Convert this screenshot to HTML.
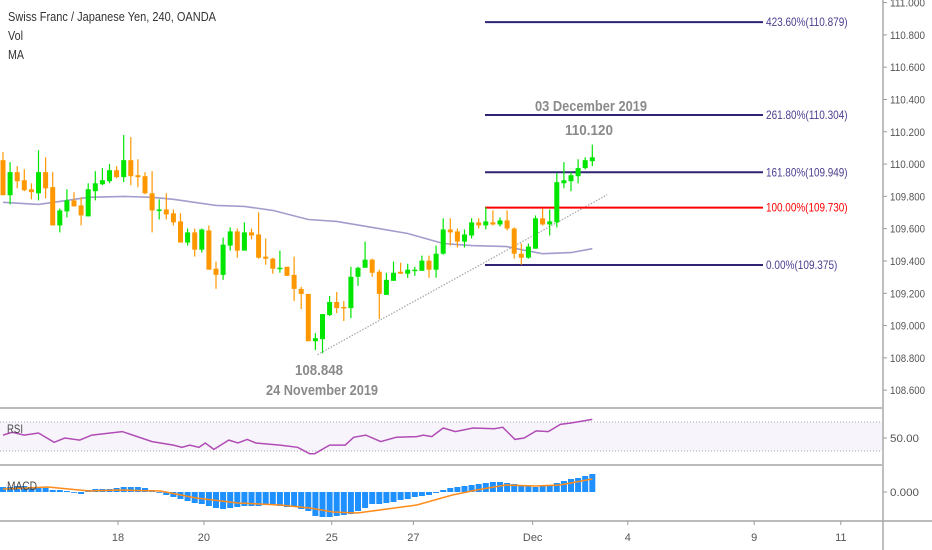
<!DOCTYPE html>
<html><head><meta charset="utf-8">
<style>
html,body{margin:0;padding:0;background:#fff;}
svg{display:block;font-family:"Liberation Sans",sans-serif;}
</style></head>
<body>
<svg id="chart" width="932" height="550" viewBox="0 0 932 550" xmlns="http://www.w3.org/2000/svg">
  <rect x="0" y="0" width="932" height="550" fill="#fff"/>
  <rect x="0" y="422" width="882" height="29" fill="#f8f4fb"/>
  <line x1="0" y1="422" x2="882" y2="422" stroke="#aaa" stroke-dasharray="1,2"/>
  <line x1="0" y1="451" x2="882" y2="451" stroke="#aaa" stroke-dasharray="1,2"/>
  <g id="plot"></g>
  <line x1="0" y1="408" x2="882" y2="408" stroke="#bbb" stroke-width="2"/>
  <line x1="0" y1="465" x2="882" y2="465" stroke="#bbb" stroke-width="2"/>
  <line x1="0" y1="521" x2="932" y2="521" stroke="#bbb" stroke-width="2"/>
  <line x1="883" y1="0" x2="883" y2="550" stroke="#aaa" stroke-width="1.5"/>
  <g id="axes"></g>
  <text x="8" y="21" font-size="13" fill="#333" textLength="208" lengthAdjust="spacingAndGlyphs">Swiss Franc / Japanese Yen, 240, OANDA</text>
  <text x="8" y="40" font-size="13" fill="#333" textLength="15" lengthAdjust="spacingAndGlyphs">Vol</text>
  <text x="8" y="59" font-size="13" fill="#333" textLength="16" lengthAdjust="spacingAndGlyphs">MA</text>
  <text x="7" y="433" font-size="12" fill="#444" textLength="16" lengthAdjust="spacingAndGlyphs">RSI</text>
  <text x="7" y="490" font-size="12" fill="#444" textLength="30" lengthAdjust="spacingAndGlyphs">MACD</text>
  <text x="535" y="111" font-size="15" font-weight="bold" fill="#8a8a8a" textLength="112" lengthAdjust="spacingAndGlyphs">03 December 2019</text>
  <text x="565" y="135" font-size="15" font-weight="bold" fill="#8a8a8a" textLength="48" lengthAdjust="spacingAndGlyphs">110.120</text>
  <text x="295" y="375" font-size="15" font-weight="bold" fill="#8a8a8a" textLength="48" lengthAdjust="spacingAndGlyphs">108.848</text>
  <text x="266" y="395" font-size="15" font-weight="bold" fill="#8a8a8a" textLength="112" lengthAdjust="spacingAndGlyphs">24 November 2019</text>
</svg>
<script>
const opens=[110.024,109.807,109.950,109.900,109.844,109.819,109.950,109.857,109.620,109.707,109.775,109.744,109.676,109.832,109.875,109.894,109.962,109.919,110.024,109.931,109.925,109.819,109.713,109.719,109.695,109.645,109.514,109.577,109.470,109.589,109.352,109.314,109.495,109.583,109.464,109.577,109.564,109.427,109.414,109.352,109.364,109.314,109.227,109.196,108.903,108.916,109.065,109.146,109.115,109.108,109.302,109.358,109.408,109.333,109.190,109.277,109.333,109.321,109.339,109.339,109.402,109.346,109.445,109.595,109.583,109.520,109.558,109.639,109.620,109.639,109.626,109.651,109.601,109.445,109.420,109.476,109.664,109.626,109.639,109.881,109.894,109.925,109.975,110.018];
const highs=[110.074,110.012,109.987,109.968,109.881,110.086,110.042,109.950,109.725,109.844,109.826,109.794,109.881,109.956,109.975,110.000,109.987,110.180,110.167,110.030,109.950,109.956,109.782,109.819,109.719,109.695,109.601,109.601,109.601,109.620,109.396,109.545,109.608,109.601,109.639,109.601,109.701,109.539,109.420,109.464,109.364,109.427,109.240,109.196,108.953,109.071,109.183,109.208,109.152,109.364,109.364,109.520,109.414,109.346,109.327,109.396,109.389,109.383,109.364,109.433,109.433,109.495,109.664,109.664,109.601,109.595,109.664,109.664,109.732,109.713,109.670,109.713,109.608,109.508,109.508,109.682,109.725,109.719,109.944,110.012,109.950,110.030,110.042,110.120];
const lows=[109.807,109.750,109.850,109.832,109.782,109.775,109.788,109.620,109.577,109.670,109.738,109.620,109.676,109.775,109.869,109.881,109.912,109.888,109.869,109.857,109.813,109.577,109.657,109.657,109.620,109.514,109.495,109.427,109.452,109.346,109.228,109.283,109.464,109.420,109.464,109.533,109.414,109.377,109.321,109.327,109.308,109.152,109.102,108.903,108.848,108.829,109.059,109.077,109.028,109.046,109.246,109.358,109.302,109.040,109.190,109.277,109.321,109.296,109.308,109.339,109.296,109.296,109.439,109.495,109.483,109.483,109.539,109.601,109.595,109.620,109.614,109.589,109.414,109.377,109.414,109.476,109.620,109.558,109.608,109.850,109.832,109.881,109.968,109.987];
const closes=[109.807,109.950,109.894,109.838,109.826,109.950,109.850,109.620,109.713,109.775,109.738,109.682,109.844,109.881,109.900,109.962,109.919,110.024,109.925,109.919,109.819,109.713,109.719,109.688,109.639,109.514,109.577,109.470,109.595,109.346,109.314,109.501,109.583,109.464,109.577,109.558,109.420,109.414,109.352,109.358,109.308,109.227,109.196,108.903,108.922,109.071,109.146,109.108,109.108,109.302,109.358,109.408,109.327,109.196,109.283,109.327,109.321,109.346,109.346,109.402,109.346,109.445,109.595,109.577,109.520,109.564,109.639,109.620,109.645,109.626,109.651,109.601,109.445,109.420,109.489,109.664,109.626,109.645,109.888,109.900,109.931,109.975,110.024,110.042];
const maIdx=[0,5,8,12,17,21,24,30,34,38,43,47,52,57,62,66,71,73,76,80,83];
const maVal=[109.763,109.750,109.769,109.794,109.800,109.794,109.782,109.744,109.738,109.713,109.657,109.645,109.608,109.570,109.508,109.495,109.489,109.470,109.445,109.452,109.476];
const rsiIdx=[0,1.3,3,5,7.2,8.7,10.8,12.5,16.8,21,24,25.2,26.3,27.6,28.5,29.7,31.8,33.1,34.4,35.6,39,41.5,43.2,43.9,46,48.2,49.4,51.1,53.2,55.4,58.3,59.2,60.4,62,63.7,66.2,69.2,70.4,72.1,73.4,75.1,76.8,78.5,80,83];
const rsiVal=[54,58,54,57,44,50,47,54,59,45,40,37,40,37,43,34,47,43,48,43,40,37,28,28,40,40,51,54,45,51,52,54,52,64,59,64,63,65,48,50,60,59,69,71,76];
const macdHist=[0.005,0.005,0.006,0.006,0.005,0.005,0.004,0.002,0.002,0.001,0,-0.002,0.002,0.003,0.003,0.003,0.004,0.005,0.005,0.005,0.004,0.002,0,-0.003,-0.005,-0.007,-0.009,-0.011,-0.012,-0.014,-0.016,-0.017,-0.016,-0.015,-0.014,-0.014,-0.014,-0.013,-0.013,-0.014,-0.015,-0.015,-0.017,-0.019,-0.024,-0.025,-0.025,-0.024,-0.023,-0.022,-0.019,-0.016,-0.012,-0.012,-0.011,-0.010,-0.008,-0.007,-0.005,-0.004,-0.003,-0.001,0.002,0.004,0.005,0.006,0.007,0.008,0.009,0.010,0.010,0.009,0.008,0.007,0.006,0.005,0.006,0.006,0.009,0.011,0.013,0.014,0.016,0.018];
const sigIdx=[0,6.3,12.2,16.3,22.2,27.2,33.1,39,43.2,46.5,49.9,58.3,63.3,66.7,70.8,75,78.4,83];
const sigVal=[0.003,0.005,0.001,0.002,0.001,-0.006,-0.011,-0.013,-0.016,-0.020,-0.021,-0.013,-0.003,0.002,0.007,0.006,0.007,0.013];
const priceTicks=[111.0,110.8,110.6,110.4,110.2,110.0,109.8,109.6,109.4,109.2,109.0,108.8,108.6];
const fibLabels=["423.60%(110.879)","261.80%(110.304)","161.80%(109.949)","100.00%(109.730)","0.00%(109.375)"];
const fibPrices=[110.879,110.304,109.949,109.730,109.375];
const fibColors=["#2e2473","#2e2473","#2e2473","#ff0000","#2e2473"];
const timeLabels=["18","20","25","27","Dec","4","9","11"];
const timeIdx=[16.2,28.3,46.3,57.8,74.6,88,105.8,118];
const trendStart=[44.3,108.82], trendEnd=[85.1,109.81];

const NS="http://www.w3.org/2000/svg";
const X=i=>3+i*7.1;
const Y=p=>172.3-(p-109.949)*161.5;
const RY=v=>438-(v-50)*0.715;
const MY=v=>492-v*1000;
const plot=document.getElementById('plot'), axes=document.getElementById('axes');
function mk(tag,attrs,parent){const e=document.createElementNS(NS,tag);for(const k in attrs)e.setAttribute(k,attrs[k]);(parent||plot).appendChild(e);return e;}

let d=maIdx.map((i,k)=>(k?'L':'M')+X(i).toFixed(1)+' '+Y(maVal[k]).toFixed(1)).join(' ');
let ma=mk('path',{d:d,fill:'none',stroke:'#a49ccc','stroke-width':1.6});


let tl=mk('line',{x1:X(trendStart[0]),y1:Y(trendStart[1]),x2:X(trendEnd[0]),y2:Y(trendEnd[1]),stroke:'#aaa','stroke-width':1.3,'stroke-dasharray':'1.5,1.5'});


fibPrices.forEach((p,k)=>{
  const l=mk('line',{x1:485,y1:Y(p),x2:763,y2:Y(p),stroke:fibColors[k],'stroke-width':2});
  
  
  const t=mk('text',{x:766,y:Y(p)+4,'font-size':12,fill:k==3?'#ff0000':'#4a3f8f',textLength:fibLabels[k].length*5.1,lengthAdjust:'spacingAndGlyphs'});
  t.textContent=fibLabels[k];
  
  
});
opens.forEach((o,i)=>{
  const c=closes[i],up=c>=o,col=up?'#00e600':'#ff9800',x=X(i);
  const w=mk('line',{x1:x,y1:Y(highs[i]),x2:x,y2:Y(lows[i]),stroke:col,'stroke-width':1.2});
  
  
  const t=Y(Math.max(o,c)),b=Y(Math.min(o,c));
  const r=mk('rect',{x:x-2.5,y:t,width:5,height:Math.max(1.5,b-t),fill:col});
  
  
});
d=rsiIdx.map((i,k)=>(k?'L':'M')+X(i).toFixed(1)+' '+RY(rsiVal[k]).toFixed(1)).join(' ');
let rl=mk('path',{d:d,fill:'none',stroke:'#b04cb5','stroke-width':1.5});


macdHist.forEach((v,i)=>{
  const y0=MY(0),y1=MY(v);
  const r=mk('rect',{x:X(i)-3,y:Math.min(y0,y1),width:6,height:Math.max(0.8,Math.abs(y1-y0)),fill:'#1e90ff'});
  
  
});
d=sigIdx.map((i,k)=>(k?'L':'M')+X(i).toFixed(1)+' '+MY(sigVal[k]).toFixed(1)).join(' ');
let sl=mk('path',{d:d,fill:'none',stroke:'#ff8c1a','stroke-width':1.5});


priceTicks.forEach(p=>{
  const y=Y(p);
  mk('line',{x1:883,y1:y,x2:887,y2:y,stroke:'#999'},axes);
  const t=mk('text',{x:890,y:y+4,'font-size':11,fill:'#555',textLength:35,lengthAdjust:'spacingAndGlyphs'},axes);
  t.textContent=p.toFixed(3);
  
  
});
[[RY(50),'50.00',29],[MY(0),'0.000',29]].forEach(a=>{
  mk('line',{x1:883,y1:a[0],x2:887,y2:a[0],stroke:'#999'},axes);
  const t=mk('text',{x:890,y:a[0]+4,'font-size':11,fill:'#555',textLength:a[2],lengthAdjust:'spacingAndGlyphs'},axes);
  t.textContent=a[1];
  
  
});
timeLabels.forEach((s,k)=>{
  const x=X(timeIdx[k]);
  mk('line',{x1:x,y1:521,x2:x,y2:525,stroke:'#999'},axes);
  const t=mk('text',{x:x,y:541,'font-size':11,fill:'#555','text-anchor':'middle'},axes);
  t.textContent=s;
  
  
});
</script>
</body></html>
